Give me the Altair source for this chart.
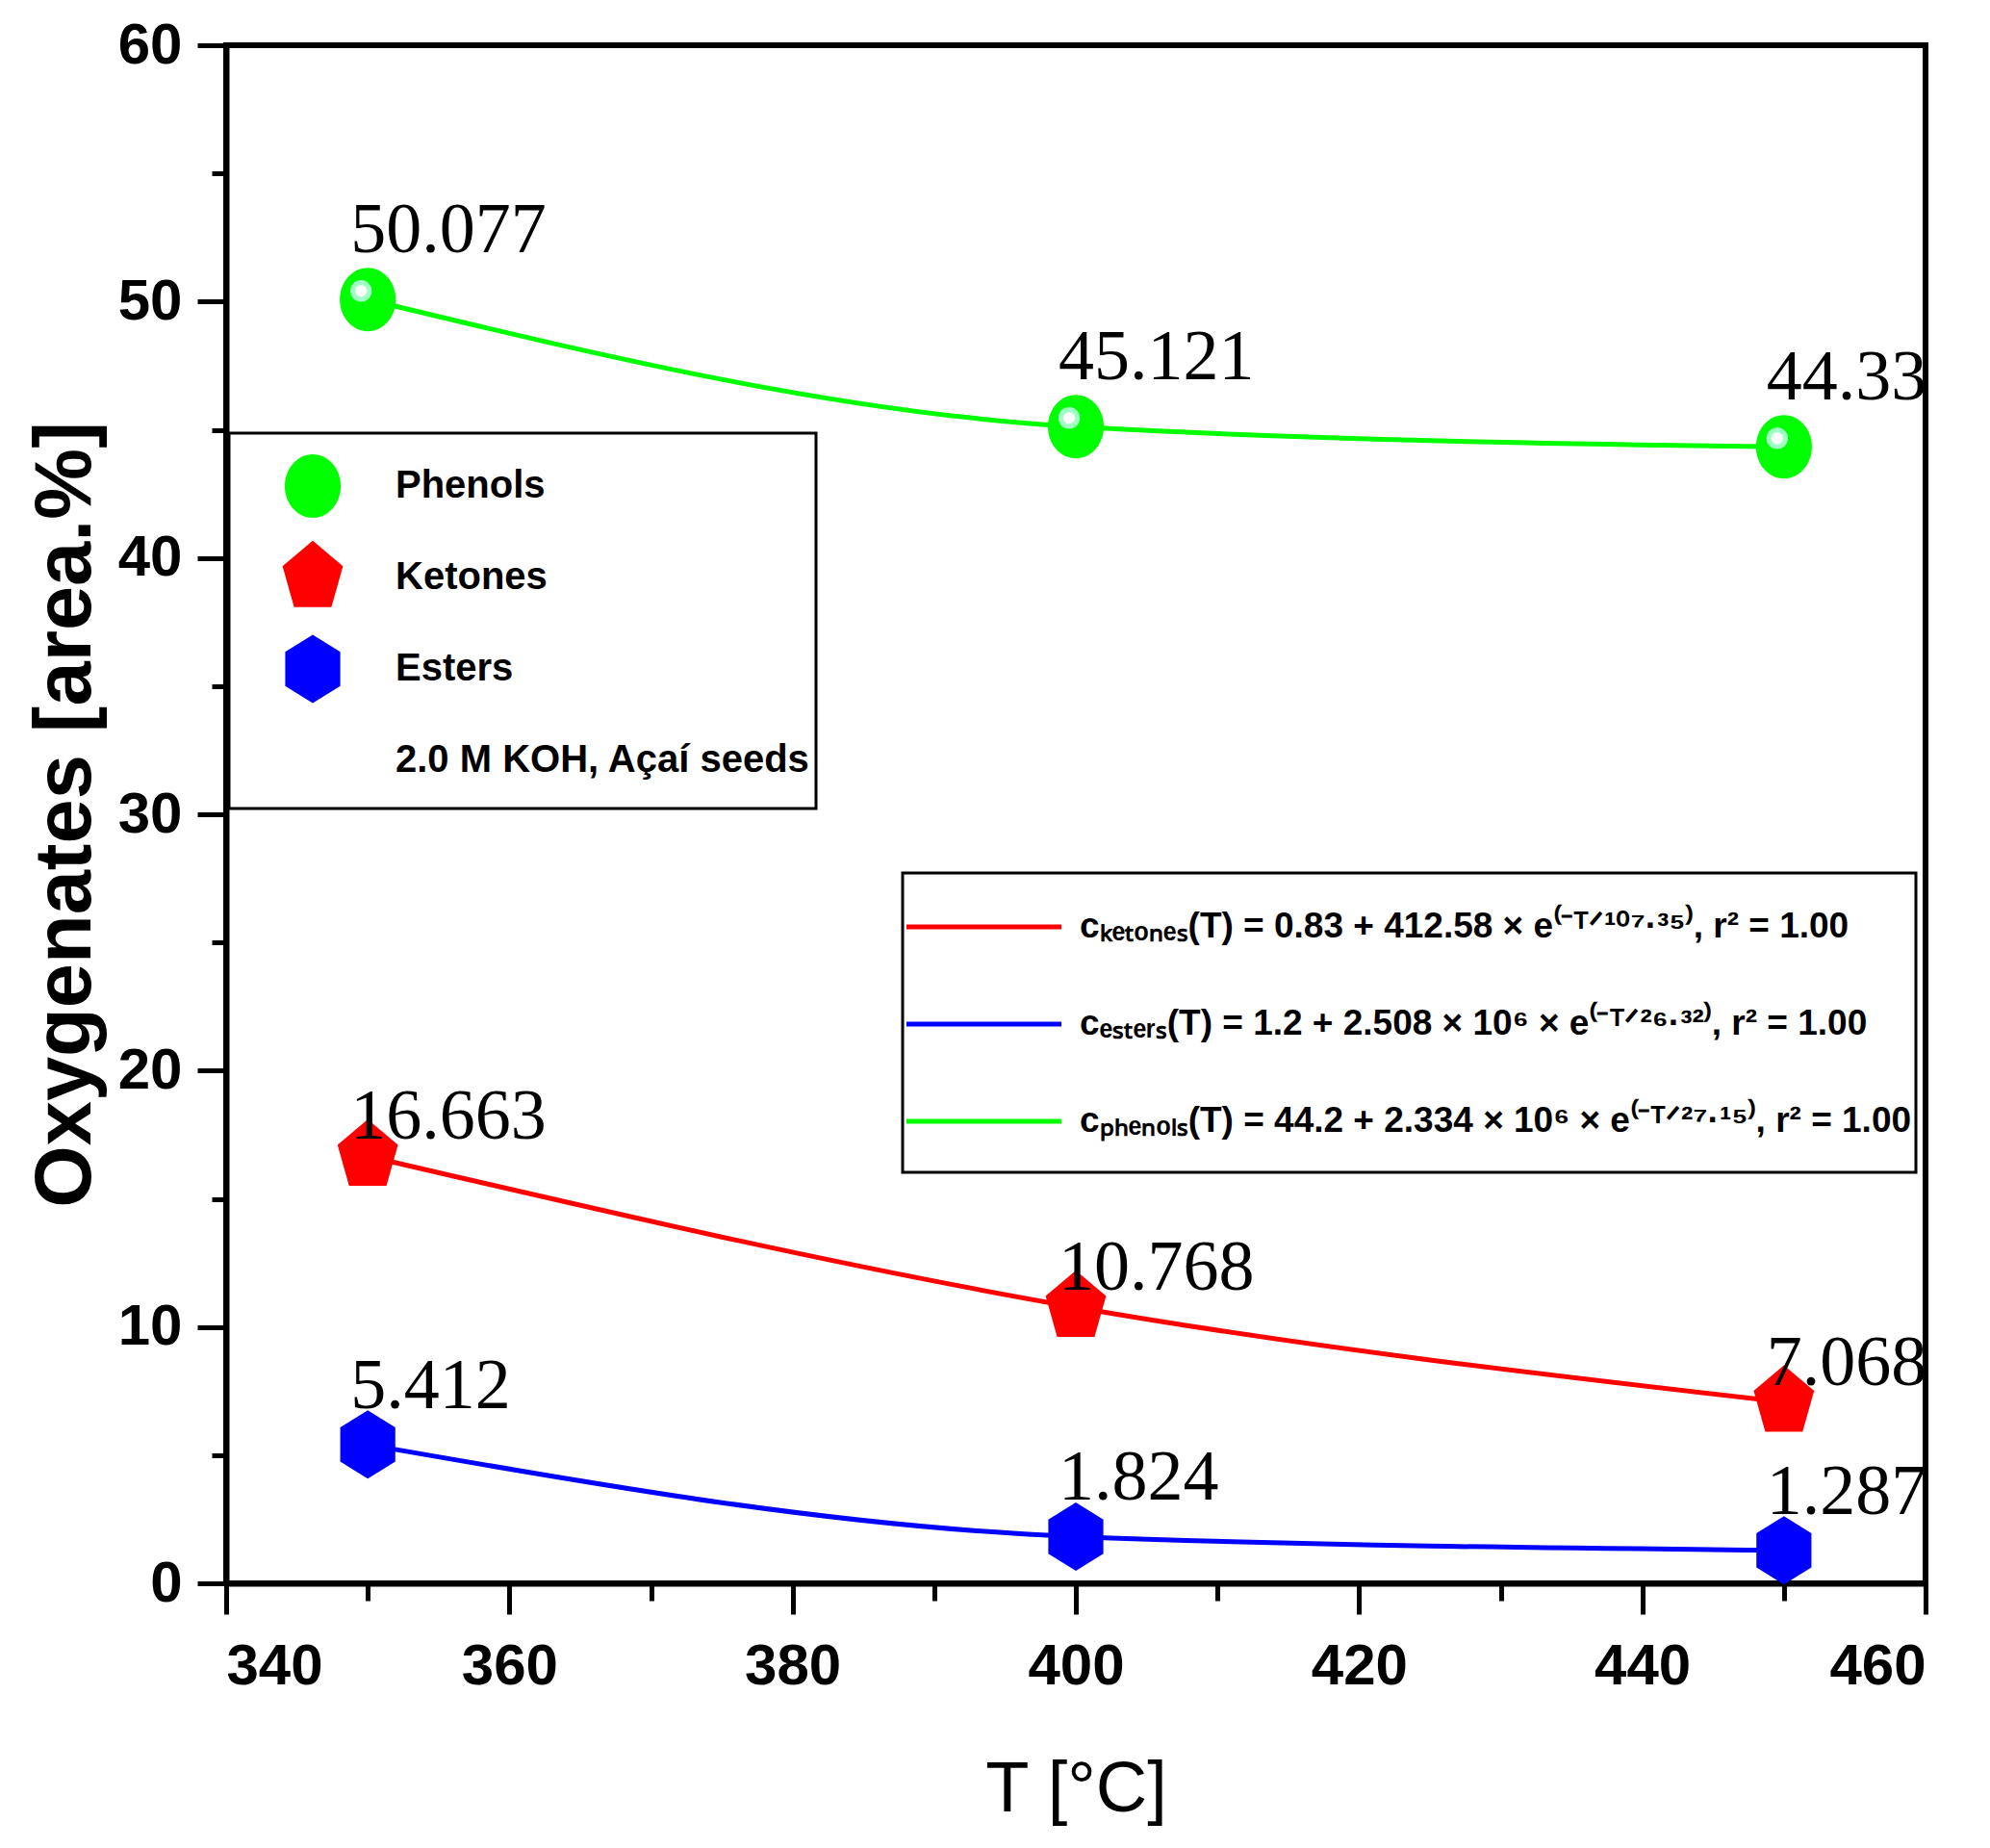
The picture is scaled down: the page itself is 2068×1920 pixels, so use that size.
import altair as alt
import pandas as pd

temps = [350, 400, 450]
phenols = [50.077, 45.121, 44.33]
ketones = [16.663, 10.768, 7.068]
esters = [5.412, 1.824, 1.287]

series_names = ["Phenols", "Ketones", "Esters"]
note = "2.0 M KOH, Açaí seeds"
fit_texts = {
    "Ketones": "cₖₑₜₒₙₑₛ(T) = 0.83 + 412.58 × e⁽⁻ᵀᐟ¹⁰⁷·³⁵⁾, r² = 1.00",
    "Esters": "cₑₛₜₑᵣₛ(T) = 1.2 + 2.508 × 10⁶ × e⁽⁻ᵀᐟ²⁶·³²⁾, r² = 1.00",
    "Phenols": "cₚₕₑₙₒₗₛ(T) = 44.2 + 2.334 × 10⁶ × e⁽⁻ᵀᐟ²⁷·¹⁵⁾, r² = 1.00",
}
colors = {"Phenols": "#00ff00", "Ketones": "#ff0000", "Esters": "#0000ff"}

# marker outlines (a bit taller than wide, like the original);
# the trailing "M0,0.9" only pads the legend row height
shapes = {
    "Phenols": "M0,-0.66A0.581,0.66,0,1,1,0,0.66A0.581,0.66,0,1,1,0,-0.66ZM0,0.9",
    "Ketones": "M0,-0.763L0.628,-0.236L0.388,0.617L-0.388,0.617L-0.628,-0.236ZM0,0.9",
    "Esters": "M0,-0.71L0.572,-0.355L0.572,0.355L0,0.71L-0.572,0.355L-0.572,-0.355ZM0,0.9",
}
blank_shape = "M0,0.9"

rows = []
for name, vals in zip(series_names, [phenols, ketones, esters]):
    for t, v in zip(temps, vals):
        rows.append({"T": t, "value": v, "series": name,
                     "label": str(v), "fit": fit_texts[name]})
df = pd.DataFrame(rows)

SANS = "Liberation Sans"

x = alt.X("T:Q",
          scale=alt.Scale(domain=[340, 460], nice=False, zero=False),
          axis=alt.Axis(values=list(range(340, 461, 10)), format="d",
                        labelExpr="datum.value % 20 === 0 ? datum.label : ''",
                        tickSize={"condition": {"test": "datum.value % 20 === 0", "value": 32}, "value": 18},
                        labelPadding=25, title="T [°C]", titleFont=SANS,
                        titleFontWeight="normal", titleFontSize=74, titlePadding=62))
y = alt.Y("value:Q",
          scale=alt.Scale(domain=[0, 60], nice=False),
          axis=alt.Axis(values=list(range(0, 61, 5)),
                        labelExpr="datum.value % 10 === 0 ? datum.label : ''",
                        tickSize={"condition": {"test": "datum.value % 10 === 0", "value": 30}, "value": 15},
                        labelPadding=16, title="Oxygenates [area.%]", titleFont=SANS,
                        titleFontWeight="bold", titleFontSize=83, titlePadding=12))

fit_domain = [fit_texts["Ketones"], fit_texts["Esters"], fit_texts["Phenols"]]
lines = alt.Chart(df).mark_line(interpolate="monotone", strokeWidth=5).encode(
    x=x, y=y,
    stroke=alt.Stroke("fit:N",
                      scale=alt.Scale(domain=fit_domain,
                                      range=[colors["Ketones"], colors["Esters"], colors["Phenols"]]),
                      legend=alt.Legend(title=None, orient="none", legendX=703, legendY=860,
                                        padding=4, strokeColor="black", fillColor="white",
                                        symbolType="M-1.0505,0H2.202M0,0.768", symbolSize=9801,
                                        symbolStrokeWidth=5, labelOffset=76,
                                        labelFont=SANS, labelFontWeight="bold", labelFontSize=37,
                                        labelLimit=0, labelColor="black")),
    order="T:Q",
)

sym_domain = series_names + [note]
sym_legend = alt.Legend(title=None, orient="none", legendX=3, legendY=403, padding=5,
                        strokeColor="black", fillColor="white",
                        symbolStrokeWidth=0, symbolSize=10000, symbolOffset=32,
                        labelOffset=36, labelFont=SANS,
                        labelFontWeight="bold", labelFontSize=40, labelLimit=0,
                        labelColor="black")
points = alt.Chart(df).mark_point(filled=True, opacity=1, size=10000, strokeWidth=0).encode(
    x=x, y=y,
    fill=alt.Fill("series:N",
                  scale=alt.Scale(domain=sym_domain,
                                  range=[colors[s] for s in series_names] + ["white"]),
                  legend=sym_legend),
    shape=alt.Shape("series:N",
                    scale=alt.Scale(domain=sym_domain,
                                    range=[shapes[s] for s in series_names] + [blank_shape]),
                    legend=sym_legend),
)

# glossy highlight on the phenol balls
phen = alt.Chart(df).transform_filter(alt.datum.series == "Phenols")
glow = phen.mark_point(shape="circle", filled=True, opacity=1, size=500, color="#a0ffc4",
                       xOffset=-7, yOffset=-9).encode(x=x, y=y)
spot = phen.mark_point(shape="circle", filled=True, opacity=1, size=150, color="white",
                       xOffset=-7, yOffset=-9).encode(x=x, y=y)

label_dy = {"Phenols": -49, "Ketones": -18, "Esters": -38}
texts = []
for name in series_names:
    texts.append(
        alt.Chart(df).transform_filter(alt.datum.series == name)
        .mark_text(align="left", baseline="alphabetic", dx=-18, dy=label_dy[name],
                   font="Liberation Serif", fontSize=74, color="black")
        .encode(x=x, y=y, text="label:N")
    )

chart = alt.layer(lines, points, glow, spot, *texts).properties(
    width=1766, height=1598,
    padding={"left": 19, "top": 9, "right": 10, "bottom": 10},
).configure_view(
    stroke="black", strokeWidth=6
).configure_axis(
    labelFont=SANS, labelFontWeight="bold", labelFontSize=60, labelColor="black",
    domainColor="black", domainWidth=6, tickColor="black", tickWidth=5,
    titleColor="black", grid=False,
).configure_legend(
    strokeWidth=3, rowPadding=0,
)

chart.save("out.html", embed_options={"renderer": "svg", "actions": False})
